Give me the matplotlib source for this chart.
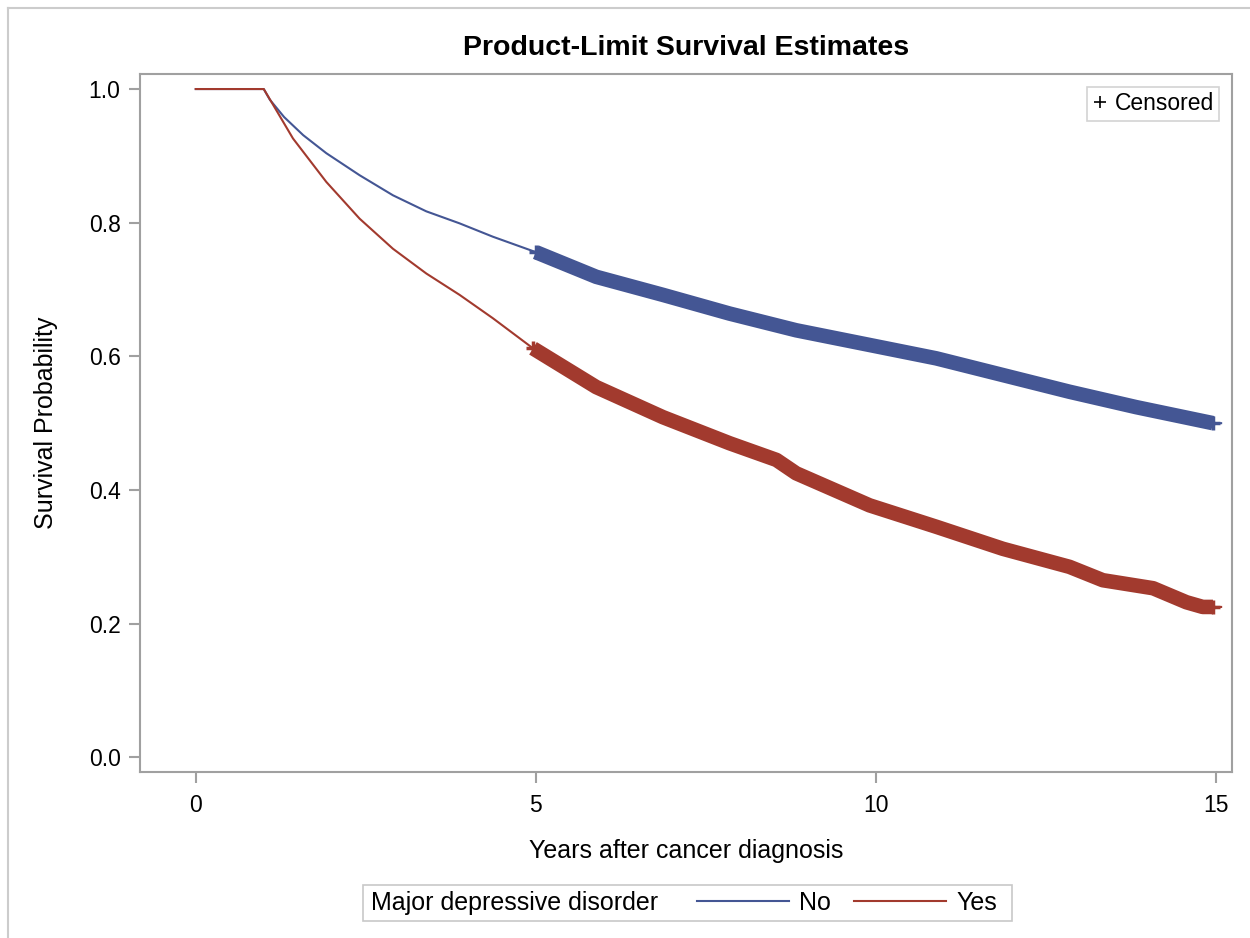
import matplotlib
matplotlib.use("Agg")
import matplotlib.pyplot as plt
from matplotlib.lines import Line2D
from matplotlib.patches import Rectangle

# Kaplan-Meier estimates (years, survival)
t_no = [0, 1.0, 1.09, 1.30, 1.58, 1.92, 2.41, 2.90, 3.39, 3.88, 4.37, 5.0, 5.89,
        6.87, 7.85, 8.83, 9.91, 10.89, 11.87, 12.85, 13.83, 14.96, 15.08]
s_no = [1.0, 1.0, 0.984, 0.958, 0.931, 0.904, 0.871, 0.841, 0.817, 0.799, 0.779,
        0.756, 0.719, 0.692, 0.664, 0.639, 0.617, 0.597, 0.572, 0.547, 0.524,
        0.500, 0.500]

t_yes = [0, 1.0, 1.14, 1.43, 1.92, 2.41, 2.90, 3.39, 3.88, 4.37, 4.96, 5.89, 6.87,
         7.85, 8.54, 8.83, 9.91, 10.89, 11.87, 12.85, 13.34, 14.08, 14.57, 14.81,
         14.96, 15.08]
s_yes = [1.0, 1.0, 0.976, 0.926, 0.861, 0.806, 0.761, 0.724, 0.692, 0.657, 0.612,
         0.554, 0.509, 0.470, 0.445, 0.425, 0.377, 0.345, 0.312, 0.285, 0.265,
         0.253, 0.232, 0.225, 0.225, 0.225]

# range of years where censored observations pile up
censor_no = (5.0, 14.96)
censor_yes = (4.96, 14.96)

groups = ["No", "Yes"]
xticks = [0, 5, 10, 15]
yticks = [0.0, 0.2, 0.4, 0.6, 0.8, 1.0]

BLUE = "#445694"
RED = "#A23A2E"
GRAY = "#a0a0a0"

plt.rcParams["font.family"] = ["Liberation Sans", "DejaVu Sans"]

W, H = 1250, 938
fig = plt.figure(figsize=(W / 100, H / 100), dpi=100)


def fx(px):
    return px / W


def fy(py):
    return 1 - py / H


ax = fig.add_axes([fx(140), fy(772), fx(1232) - fx(140), fy(74) - fy(772)])

for t, s, cens, col in [(t_no, s_no, censor_no, BLUE), (t_yes, s_yes, censor_yes, RED)]:
    ax.plot(t, s, color=col, lw=1.5)
    ct = [a for a in t if cens[0] <= a <= cens[1]]
    cs = [b for a, b in zip(t, s) if cens[0] <= a <= cens[1]]
    # dense censor marks merge into a thick band
    ax.plot(ct, cs, color=col, lw=10.5, solid_capstyle="butt")
    ax.plot([ct[0], ct[-1]], [cs[0], cs[-1]], ls="none", marker="+", ms=10,
            mew=2.5, color=col)

ax.set_xlim(-0.82, 15.24)
ax.set_ylim(-0.022, 1.0225)
ax.set_xticks(xticks)
ax.set_xticklabels([str(x) for x in xticks])
ax.set_yticks(yticks)
ax.set_yticklabels([f"{y:.1f}" for y in yticks])
for sp in ax.spines.values():
    sp.set_color(GRAY)
    sp.set_linewidth(1.5)
ax.tick_params(direction="out", length=8, width=1.5, color=GRAY, labelsize=16.5,
               pad=8)
ax.tick_params(axis="y", pad=6)

ax.set_xlabel("Years after cancer diagnosis", fontsize=18, labelpad=16)
ax.set_ylabel("Survival Probability", fontsize=18, labelpad=22)
ax.set_title("Product-Limit Survival Estimates", fontsize=20.5, fontweight="bold",
             pad=14)

# censored key in the corner
cens_handle = Line2D([], [], ls="none", marker="+", color="black", ms=9, mew=1.2)
leg1 = ax.legend([cens_handle], ["Censored"], loc="upper right", fontsize=16.5,
                 frameon=True, fancybox=False, edgecolor="#c8c8c8",
                 handlelength=0.6, handletextpad=0.35, borderpad=0.25,
                 borderaxespad=0.55)
leg1.get_frame().set_linewidth(1.2)

# group legend at the bottom
fig.patches.append(Rectangle((fx(363), fy(921)), fx(1012) - fx(363),
                             fy(885) - fy(921), transform=fig.transFigure,
                             fill=False, ec="#c8c8c8", lw=1.2))
fig.text(fx(371), fy(903), "Major depressive disorder", fontsize=18,
         va="center", ha="left")
handles = [Line2D([], [], color=BLUE, lw=1.5), Line2D([], [], color=RED, lw=1.5)]
fig.legend(handles, groups, loc="center right", bbox_to_anchor=(fx(997), fy(903)),
           ncol=2, frameon=False, fontsize=18, handlelength=3.7,
           handletextpad=0.4, columnspacing=0.9, borderpad=0, borderaxespad=0)

# outer frame (cut off at right and bottom)
fig.lines.append(Line2D([fx(8), fx(8)], [fy(8), 0], transform=fig.transFigure,
                        color="#cccccc", lw=1.5))
fig.lines.append(Line2D([fx(8), 1], [fy(8), fy(8)], transform=fig.transFigure,
                        color="#cccccc", lw=1.5))

fig.savefig("out.png", dpi=100, facecolor="white")
